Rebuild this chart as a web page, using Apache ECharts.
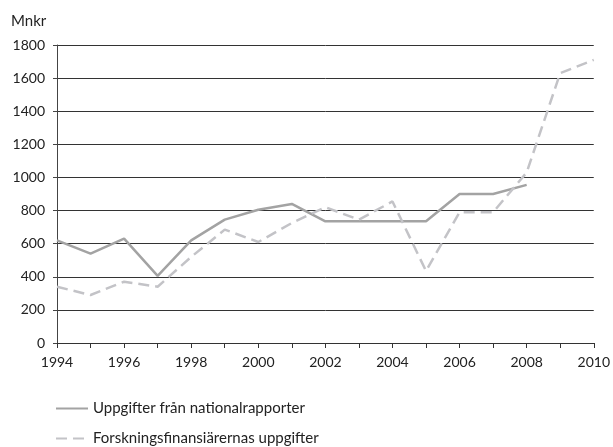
<!DOCTYPE html>
<html>
<head>
<meta charset="utf-8">
<script src="https://cdn.jsdelivr.net/npm/echarts@6/dist/echarts.min.js"></script>
<style>
  html, body { margin: 0; padding: 0; background: #fff; }
  #chart { width: 613px; height: 447px; }
</style>
</head>
<body>
<div id="chart"></div>
<script>
  // år 1994-2010
  var years = ['1994','1995','1996','1997','1998','1999','2000','2001','2002',
               '2003','2004','2005','2006','2007','2008','2009','2010'];
  var nationalrapporter = [620, 540, 630, 405, 620, 745, 805, 840, 735,
                           735, 735, 735, 900, 900, 955, null, null];
  var finansiarer = [340, 290, 370, 340, 520, 685, 610, 725, 820,
                     745, 855, 435, 790, 790, 1030, 1630, 1710];

  var chart = echarts.init(document.getElementById('chart'));
  var font = 'Lato';
  chart.setOption({
    animation: false,
    textStyle: { fontFamily: font },
    grid: { left: 57, right: 16, top: 45, bottom: 104 },
    legend: {
      orient: 'vertical',
      left: 55,
      top: 401,
      padding: 0,
      itemWidth: 32,
      itemHeight: 12,
      itemGap: 15,
      itemStyle: { opacity: 0 },
      textStyle: { fontFamily: font, fontSize: 15, color: '#222' },
      data: ['Uppgifter från nationalrapporter', 'Forskningsfinansiärernas uppgifter']
    },
    xAxis: {
      type: 'category',
      data: years,
      boundaryGap: false,
      axisLine: { lineStyle: { color: '#333', width: 1 } },
      axisTick: { show: true, interval: 0, length: 5, lineStyle: { color: '#333' } },
      axisLabel: { interval: 1, color: '#222', fontSize: 14, margin: 12, fontFamily: font }
    },
    yAxis: {
      type: 'value',
      name: 'Mnkr',
      nameLocation: 'end',
      nameGap: 16,
      nameTextStyle: { align: 'left', padding: [0, 0, 0, -46], color: '#222', fontSize: 15 },
      min: 0,
      max: 1800,
      interval: 200,
      axisLine: { show: true, lineStyle: { color: '#444', width: 1 } },
      axisTick: { show: true, length: 4, lineStyle: { color: '#444' } },
      axisLabel: { color: '#222', fontSize: 14, margin: 12, fontFamily: font,
        formatter: function (v) { return String(v); } },
      splitLine: { lineStyle: { color: '#333', width: 1 } }
    },
    series: [
      {
        name: 'Uppgifter från nationalrapporter',
        type: 'line',
        data: nationalrapporter,
        symbol: 'none',
        lineStyle: { color: '#a3a3a3', width: 2.5 },
        itemStyle: { color: '#a3a3a3' }
      },
      {
        name: 'Forskningsfinansiärernas uppgifter',
        type: 'line',
        data: finansiarer,
        symbol: 'none',
        lineStyle: { color: '#c3c3c7', width: 2.5, type: [11, 6] },
        itemStyle: { color: '#c3c3c7' }
      }
    ]
  });
</script>
</body>
</html>
